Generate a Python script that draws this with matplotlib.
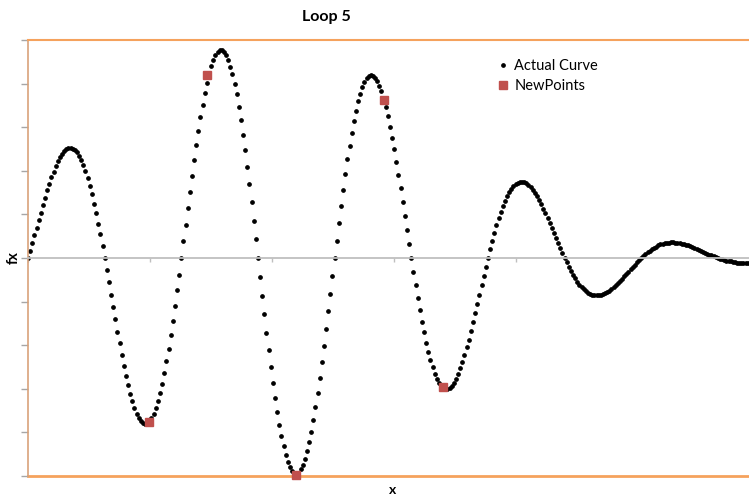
import numpy as np
import matplotlib
matplotlib.use("Agg")
import matplotlib.pyplot as plt

# sampled curve, one value per step of X_STEP along x
X_STEP = 0.017453
fx = [
    0.00, 0.17, 0.34, 0.52, 0.69, 0.87, 1.04, 1.22, 1.38, 1.55,
    1.70, 1.85, 1.98, 2.11, 2.22, 2.31, 2.39, 2.45, 2.50, 2.52,
    2.53, 2.51, 2.48, 2.42, 2.34, 2.25, 2.13, 1.99, 1.84, 1.66,
    1.47, 1.25, 1.03, 0.79, 0.54, 0.27, 0.00, -0.28, -0.56, -0.85,
    -1.13, -1.41, -1.69, -1.96, -2.22, -2.47, -2.70, -2.91, -3.11, -3.29,
    -3.44, -3.57, -3.67, -3.74, -3.79, -3.81, -3.80, -3.75, -3.68, -3.58,
    -3.45, -3.29, -3.10, -2.88, -2.64, -2.37, -2.08, -1.77, -1.44, -1.10,
    -0.74, -0.38, 0.00, 0.38, 0.76, 1.14, 1.52, 1.89, 2.25, 2.59,
    2.92, 3.23, 3.51, 3.78, 4.01, 4.22, 4.40, 4.54, 4.65, 4.72,
    4.76, 4.76, 4.73, 4.65, 4.54, 4.39, 4.21, 3.99, 3.75, 3.46,
    3.16, 2.82, 2.47, 2.09, 1.69, 1.28, 0.86, 0.43, 0.00, -0.43,
    -0.87, -1.29, -1.71, -2.11, -2.50, -2.87, -3.21, -3.53, -3.82, -4.09,
    -4.32, -4.52, -4.68, -4.80, -4.89, -4.94, -4.95, -4.92, -4.85, -4.75,
    -4.61, -4.43, -4.23, -3.98, -3.71, -3.42, -3.10, -2.75, -2.39, -2.01,
    -1.62, -1.22, -0.82, -0.41, 0.00, 0.40, 0.80, 1.19, 1.56, 1.92,
    2.26, 2.58, 2.87, 3.14, 3.38, 3.59, 3.77, 3.92, 4.04, 4.12,
    4.17, 4.19, 4.18, 4.13, 4.06, 3.95, 3.82, 3.65, 3.46, 3.25,
    3.01, 2.76, 2.49, 2.20, 1.90, 1.60, 1.28, 0.96, 0.64, 0.32,
    0.00, -0.31, -0.62, -0.91, -1.19, -1.46, -1.70, -1.94, -2.15, -2.34,
    -2.50, -2.65, -2.77, -2.86, -2.94, -2.98, -3.00, -3.00, -2.98, -2.93,
    -2.86, -2.77, -2.66, -2.53, -2.38, -2.22, -2.05, -1.87, -1.67, -1.47,
    -1.27, -1.06, -0.84, -0.63, -0.42, -0.21, 0.00, 0.20, 0.39, 0.57,
    0.75, 0.91, 1.05, 1.19, 1.31, 1.42, 1.51, 1.59, 1.65, 1.70,
    1.73, 1.75, 1.75, 1.74, 1.71, 1.68, 1.63, 1.57, 1.50, 1.42,
    1.33, 1.23, 1.13, 1.03, 0.92, 0.80, 0.69, 0.57, 0.45, 0.34,
    0.22, 0.11, 0.00, -0.10, -0.20, -0.30, -0.39, -0.47, -0.54, -0.61,
    -0.67, -0.72, -0.76, -0.80, -0.82, -0.84, -0.86, -0.86, -0.86, -0.85,
    -0.83, -0.81, -0.78, -0.75, -0.71, -0.67, -0.63, -0.58, -0.53, -0.48,
    -0.42, -0.37, -0.32, -0.26, -0.21, -0.15, -0.10, -0.05, 0.00, 0.05,
    0.09, 0.13, 0.17, 0.20, 0.24, 0.26, 0.29, 0.31, 0.32, 0.34,
    0.35, 0.35, 0.36, 0.36, 0.35, 0.35, 0.34, 0.33, 0.32, 0.30,
    0.29, 0.27, 0.25, 0.23, 0.21, 0.19, 0.17, 0.14, 0.12, 0.10,
    0.08, 0.06, 0.04, 0.02, 0.00, -0.02, -0.03, -0.05, -0.06, -0.07,
    -0.08, -0.09, -0.10, -0.11, -0.11, -0.12, -0.12, -0.12, -0.12,
]
x = np.arange(len(fx)) * X_STEP

new_x = [0.99, 1.47, 2.20, 2.92, 3.40]
new_y = [-3.75, 4.20, -4.98, 3.62, -2.96]

ORANGE = "#F5A25D"
GRID_GREY = "#BFBFBF"

plt.rcParams["font.family"] = ["Lato", "DejaVu Sans"]

fig = plt.figure(figsize=(7.49, 4.98), dpi=100)
ax = fig.add_axes([28 / 749, 22 / 498, 721 / 749, 436 / 498])

ax.plot(x, fx, "o", ms=2.4, color="black", linestyle="none", label="Actual Curve")
ax.plot(new_x, new_y, "s", ms=5.8, color="#C0504D", linestyle="none",
        label="NewPoints", clip_on=False, zorder=5)

ax.set_xlim(0, 721 / 122)
ax.set_ylim(-5, 5)

ax.spines["right"].set_visible(False)
ax.spines["top"].set_color(ORANGE)
ax.spines["top"].set_linewidth(1.5)
ax.spines["left"].set_color("#D9A27A")
ax.spines["left"].set_linewidth(1.2)
ax.spines["bottom"].set_position(("data", 0))
ax.spines["bottom"].set_color(GRID_GREY)
ax.spines["bottom"].set_linewidth(1.3)
ax.axhline(-5, color=ORANGE, lw=2.0, clip_on=False, zorder=1)

ax.set_yticks(range(-5, 6))
ax.set_xticks(range(0, 6))
ax.tick_params(axis="y", direction="out", length=5, width=1, color="#A6A6A6",
               labelleft=False)
ax.tick_params(axis="x", direction="out", length=3, width=1, color=GRID_GREY,
               labelbottom=False)

fig.text(326 / 749, 1 - 17 / 498, "Loop 5", fontsize=11.5, fontweight="bold",
         ha="center", va="center")
fig.text(393 / 749, 1 - 490 / 498, "x", fontsize=10, fontweight="bold",
         ha="center", va="center")
fig.text(14 / 749, 1 - 258 / 498, "fx", fontsize=10.5, fontweight="bold",
         rotation=90, ha="center", va="center")

ax.legend(loc="upper left", bbox_to_anchor=(0.638, 0.97), frameon=False,
          fontsize=10.5, handletextpad=0.2, labelspacing=0.4,
          handlelength=1.2, borderaxespad=0)

fig.savefig("out.png", dpi=100)
